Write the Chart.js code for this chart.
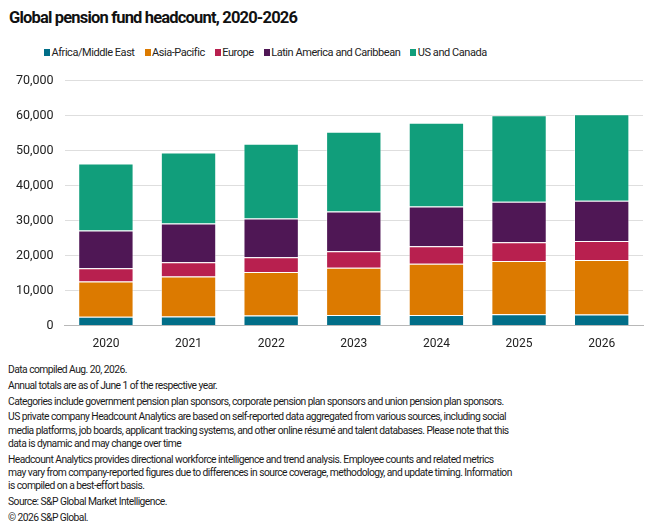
<!DOCTYPE html>
<html>
<head>
<meta charset="utf-8">
<script src="https://cdn.jsdelivr.net/npm/chart.js@4/dist/chart.umd.min.js"></script>
<style>
  html, body { margin: 0; padding: 0; background: #fff; }
  body { width: 660px; height: 528px; position: relative; overflow: hidden; font-family: Roboto, "Noto Sans", sans-serif; color: #1a1a1a; }
  #title { position: absolute; left: 9px; top: 8px; font-size: 16.5px; font-weight: bold; letter-spacing: -0.82px; color: #111; }
  #legend { position: absolute; left: 44px; top: 46px; font-size: 11px; white-space: nowrap; color: #222; letter-spacing: -0.45px; }
  #legend span.item { display: inline-block; margin-right: 10px; }
  #legend span.box { display: inline-block; width: 6px; height: 7px; margin-right: 1.5px; vertical-align: 0px; }
  #wrap { position: absolute; left: 0; top: 62px; width: 660px; height: 300px; }
  #notes { position: absolute; left: 8px; top: 363px; width: 640px; font-size: 10.3px; line-height: 13.3px; color: #1a1a1a; letter-spacing: -0.55px; white-space: nowrap; }
  #notes p { margin: 0 0 2.5px 0; }
</style>
</head>
<body>
<div id="title">Global pension fund headcount, 2020-2026</div>
<div id="legend"></div>
<div id="wrap"><canvas id="c"></canvas></div>
<div id="notes">
<p>Data compiled Aug. 20, 2026.</p>
<p>Annual totals are as of June 1 of the respective year.</p>
<p>Categories include government pension plan sponsors, corporate pension plan sponsors and union pension plan sponsors.</p>
<p>US private company Headcount Analytics are based on self-reported data aggregated from various sources, including social<br>media platforms, job boards, applicant tracking systems, and other online résumé and talent databases. Please note that this<br>data is dynamic and may change over time</p>
<p>Headcount Analytics provides directional workforce intelligence and trend analysis. Employee counts and related metrics<br>may vary from company-reported figures due to differences in source coverage, methodology, and update timing. Information<br>is compiled on a best-effort basis.</p>
<p>Source: S&amp;P Global Market Intelligence.</p>
<p>© 2026 S&amp;P Global.</p>
</div>
<script>
const years = ["2020", "2021", "2022", "2023", "2024", "2025", "2026"];
const seriesNames = ["Africa/Middle East", "Asia-Pacific", "Europe", "Latin America and Caribbean", "US and Canada"];
const africaMiddleEast = [2500, 2580, 2870, 3060, 3060, 3250, 3150];
const asiaPacific = [10130, 11470, 12430, 13480, 14630, 15200, 15590];
const europe = [3730, 4020, 4200, 4680, 4970, 5350, 5450];
const latinAmerica = [10800, 11090, 11090, 11380, 11370, 11570, 11470];
const usCanada = [19120, 20270, 21320, 22750, 23900, 24670, 24670];
const colors = ["#016e88", "#dc7a00", "#b8204f", "#4f1755", "#119e7b"];
const yTicks = [0, 10000, 20000, 30000, 40000, 50000, 60000, 70000];

const seriesValues = [africaMiddleEast, asiaPacific, europe, latinAmerica, usCanada];

const legend = document.getElementById('legend');
seriesNames.forEach((n, i) => {
  const it = document.createElement('span');
  it.className = 'item';
  const b = document.createElement('span');
  b.className = 'box';
  b.style.background = colors[i];
  it.appendChild(b);
  it.appendChild(document.createTextNode(n));
  legend.appendChild(it);
});

new Chart(document.getElementById('c'), {
  type: 'bar',
  data: {
    labels: years,
    datasets: seriesNames.map((n, i) => ({
      label: n,
      data: seriesValues[i],
      backgroundColor: colors[i],
      borderColor: 'rgba(255,255,255,0.45)',
      borderWidth: 1,
      categoryPercentage: 0.67,
      barPercentage: 1.0
    }))
  },
  options: {
    responsive: true,
    maintainAspectRatio: false,
    animation: false,
    layout: { padding: { left: 5, right: 17, top: 6, bottom: 0 } },
    plugins: { legend: { display: false }, tooltip: { enabled: false } },
    scales: {
      x: {
        stacked: true,
        grid: { display: false, drawTicks: false },
        border: { display: true, color: '#b8b8b8', width: 1 },
        ticks: { color: '#222', font: { family: 'Roboto', size: 12 }, padding: 11 }
      },
      y: {
        stacked: true,
        min: 0, max: 70000,
        afterBuildTicks: (axis) => { axis.ticks = yTicks.map(v => ({ value: v })); },
        grid: { color: '#dedede', drawTicks: false, lineWidth: 1 },
        border: { display: false },
        ticks: {
          color: '#222', font: { family: 'Roboto', size: 12.5 }, padding: 11,
          callback: (v) => v.toLocaleString('en-US')
        }
      }
    }
  }
});
</script>
</body>
</html>
